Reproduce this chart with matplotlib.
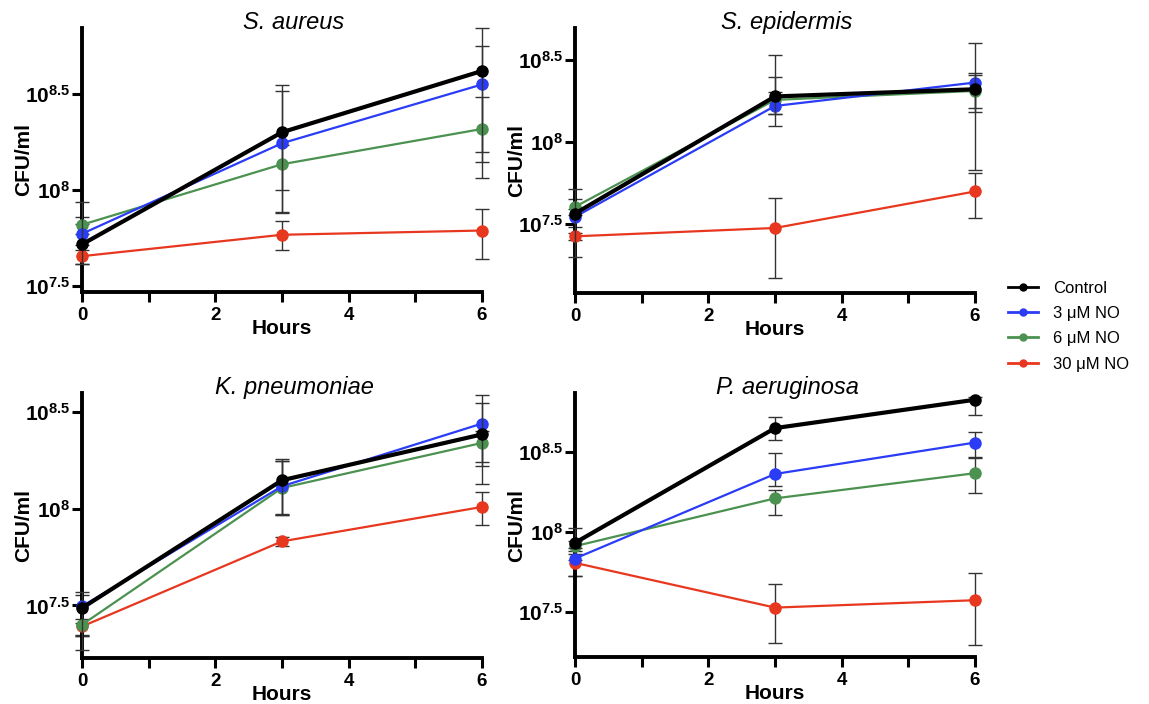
import matplotlib
matplotlib.use("Agg")
import matplotlib.pyplot as plt
from matplotlib.ticker import FixedLocator, FuncFormatter, NullLocator
from matplotlib.lines import Line2D
import numpy as np

plt.rcParams['font.family'] = ['Liberation Sans', 'DejaVu Sans']
plt.rcParams['mathtext.fontset'] = 'custom'
plt.rcParams['mathtext.rm'] = 'Liberation Sans'
plt.rcParams['mathtext.bf'] = 'Liberation Sans:bold'

hours = [0, 3, 6]
series = ['Control', '3 μM NO', '6 μM NO', '30 μM NO']
colors = ['black', '#2a3cf5', '#4b9150', '#e8371f']

# log10 CFU/ml, rows = Control, 3, 6, 30 uM NO
aureus_mean = [[7.717, 8.299, 8.617], [7.772, 8.242, 8.547], [7.819, 8.133, 8.316], [7.656, 7.767, 7.789]]
aureus_up = [[0.22, 0.245, 0.225], [0.05, 0.27, 0.20], [0.04, 0.10, 0.167], [0.03, 0.07, 0.11]]
aureus_dn = [[0.10, 0.30, 0.47], [0.06, 0.36, 0.35], [0.05, 0.25, 0.256], [0.04, 0.078, 0.15]]

epid_mean = [[7.561, 8.276, 8.320], [7.541, 8.218, 8.361], [7.602, 8.255, 8.310], [7.422, 7.473, 7.696]]
epid_up = [[0.147, 0.251, 0.28], [0.05, 0.176, 0.061], [0.045, 0.05, 0.10], [0.02, 0.18, 0.114]]
epid_dn = [[0.265, 0.178, 0.49], [0.06, 0.05, 0.157], [0.05, 0.088, 0.13], [0.02, 0.306, 0.16]]

kpn_mean = [[7.486, 8.147, 8.384], [7.495, 8.116, 8.44], [7.40, 8.107, 8.34], [7.391, 7.831, 8.009]]
kpn_up = [[0.083, 0.10, 0.163], [0.06, 0.13, 0.15], [0.03, 0.15, 0.06], [0.02, 0.02, 0.075]]
kpn_dn = [[0.215, 0.177, 0.255], [0.15, 0.15, 0.218], [0.06, 0.14, 0.10], [0.05, 0.025, 0.092]]

pae_mean = [[7.931, 8.646, 8.823], [7.833, 8.36, 8.556], [7.91, 8.208, 8.365], [7.806, 7.527, 7.573]]
pae_up = [[0.09, 0.067, 0.02], [0.03, 0.13, 0.063], [0.03, 0.052, 0.097], [0.02, 0.146, 0.167]]
pae_dn = [[0.03, 0.073, 0.094], [0.11, 0.075, 0.087], [0.03, 0.104, 0.125], [0.08, 0.221, 0.277]]

panels = [
    ('S. aureus', aureus_mean, aureus_up, aureus_dn, (7.47, 8.84), [82, 28, 482, 292]),
    ('S. epidermis', epid_mean, epid_up, epid_dn, (7.076, 8.694), [575, 28, 975, 293]),
    ('K. pneumoniae', kpn_mean, kpn_up, kpn_dn, (7.228, 8.598), [82, 393, 482, 658]),
    ('P. aeruginosa', pae_mean, pae_up, pae_dn, (7.219, 8.865), [575, 393, 975, 657]),
]

W, H = 1149, 704
fig = plt.figure(figsize=(W / 100, H / 100), dpi=100)

def fmt(v, p):
    return r'$\mathbf{10^{%g}}$' % round(np.log10(v), 1)

for title, mean, up, dn, ylim, box in panels:
    x0, y0, x1, y1 = box
    ax = fig.add_axes([x0 / W, 1 - y1 / H, (x1 - x0) / W, (y1 - y0) / H])
    ax.set_yscale('log')
    for i in [3, 2, 1, 0]:
        m = np.array(mean[i])
        y = 10 ** m
        yerr = [y - 10 ** (m - np.array(dn[i])), 10 ** (m + np.array(up[i])) - y]
        lw = 3 if i == 0 else 1.6
        ax.errorbar(hours, y, yerr=yerr, fmt='none', ecolor='#333333', elinewidth=1.0,
                    capsize=5, capthick=1.0, zorder=2 + i * 0.1 if i else 5, clip_on=False)
        ax.plot(hours, y, color=colors[i], lw=lw, marker='o', ms=8,
                zorder=4 if i else 6, clip_on=False)
    ax.set_xlim(0, 6)
    ax.set_ylim(10 ** ylim[0], 10 ** ylim[1])
    ax.yaxis.set_major_locator(FixedLocator([10 ** 7.5, 10 ** 8, 10 ** 8.5]))
    ax.yaxis.set_minor_locator(NullLocator())
    ax.yaxis.set_major_formatter(FuncFormatter(fmt))
    ax.set_xticks([0, 1, 2, 3, 4, 5, 6])
    ax.set_xticklabels(['0', '', '2', '', '4', '', '6'])
    for s in ['top', 'right']:
        ax.spines[s].set_visible(False)
    for s in ['left', 'bottom']:
        ax.spines[s].set_linewidth(2.8)
    ax.tick_params(axis='both', direction='out', length=7, width=2.2)
    ax.tick_params(axis='x', labelsize=13.5, pad=4)
    ax.tick_params(axis='y', labelsize=15, pad=1.5)
    for lab in ax.get_xticklabels():
        lab.set_fontweight('bold')
    ax.set_xlabel('Hours', fontsize=15, fontweight='bold')
    ax.xaxis.set_label_coords(0.5, -0.103)
    ax.set_ylabel('CFU/ml', fontsize=15, fontweight='bold')
    ax.yaxis.set_label_coords(-0.122, 0.5)
    ax.text(0.53, 1.02, title, transform=ax.transAxes, ha='center', va='center',
            fontsize=17, style='italic')

handles = [Line2D([0], [0], color=c, lw=2, marker='o', ms=5) for c in colors]
fig.legend(handles, series, loc='center left', bbox_to_anchor=(1008 / W, 1 - 326 / H),
           frameon=False, fontsize=12, handlelength=1.8, handletextpad=0.9,
           labelspacing=0.62, borderpad=0, borderaxespad=0)

fig.savefig('out.png', dpi=100)
